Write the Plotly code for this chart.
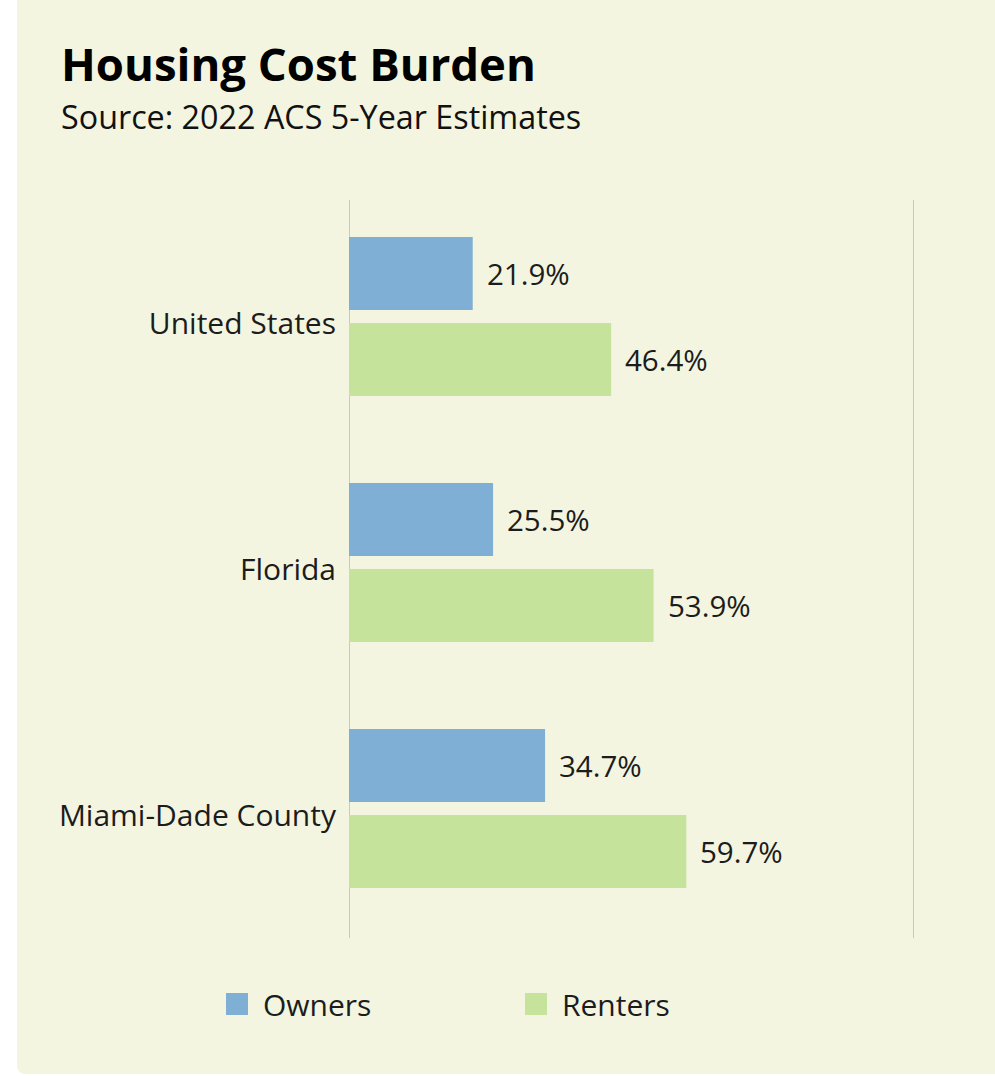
import plotly.graph_objects as go

categories = ["United States", "Florida", "Miami-Dade County"]
owners = [21.9, 25.5, 34.7]
renters = [46.4, 53.9, 59.7]
series_names = ["Owners", "Renters"]
gridline_values = [0, 100]
title_text = "Housing Cost Burden"
subtitle_text = "Source: 2022 ACS 5-Year Estimates"

W, H = 995, 1076
ML, MR, MT, MB = 349, 81, 200, 138
PW, PH = W - ML - MR, H - MT - MB

BG = "#f3f5e0"
BLUE = "#80afd6"
GREEN = "#c5e39b"
TXT = "#1c1c1c"
FONT = "Open Sans, Noto Sans, sans-serif"

BAR_W = 0.297
OFF_OWN = -0.35
OFF_REN = 0.0


def px(x):
    return (x - ML) / PW


def py(y):
    return (H - MB - y) / PH


fig = go.Figure()
fig.add_trace(go.Bar(y=categories, x=owners, orientation="h", name=series_names[0],
                     marker=dict(color=BLUE, line=dict(width=0)),
                     width=BAR_W, offset=OFF_OWN, showlegend=False, hoverinfo="skip"))
fig.add_trace(go.Bar(y=categories, x=renters, orientation="h", name=series_names[1],
                     marker=dict(color=GREEN, line=dict(width=0)),
                     width=BAR_W, offset=OFF_REN, showlegend=False, hoverinfo="skip"))

annotations = []
for i, v in enumerate(owners):
    annotations.append(dict(x=v, y=i + OFF_OWN + BAR_W / 2, xref="x", yref="y",
                            text=f"{v:.1f}%", showarrow=False, xanchor="left",
                            yanchor="middle", xshift=12,
                            font=dict(size=29.5, color=TXT, family=FONT)))
for i, v in enumerate(renters):
    annotations.append(dict(x=v, y=i + OFF_REN + BAR_W / 2, xref="x", yref="y",
                            text=f"{v:.1f}%", showarrow=False, xanchor="left",
                            yanchor="middle", xshift=12,
                            font=dict(size=29.5, color=TXT, family=FONT)))

# title & subtitle
annotations.append(dict(x=px(59), y=py(63), xref="paper", yref="paper", text=f"<b>{title_text}</b>",
                        showarrow=False, xanchor="left", yanchor="middle",
                        font=dict(size=45.5, color="#000000", family=FONT)))
annotations.append(dict(x=px(59), y=py(116), xref="paper", yref="paper", text=subtitle_text,
                        showarrow=False, xanchor="left", yanchor="middle",
                        font=dict(size=32.3, color="#111111", family=FONT)))

shapes = []
# card background with rounded bottom-left corner
r = 9
cx0, cy0, cx1, cy1 = 17, -20, 1010, 1074
path = (f"M {px(cx0)},{py(cy0)} L {px(cx1)},{py(cy0)} L {px(cx1)},{py(cy1)} "
        f"L {px(cx0 + r)},{py(cy1)} Q {px(cx0)},{py(cy1)} {px(cx0)},{py(cy1 - r)} Z")
shapes.append(dict(type="path", xref="paper", yref="paper", path=path,
                   fillcolor=BG, line=dict(width=0), layer="below"))

# vertical gridlines
for g in gridline_values:
    shapes.append(dict(type="line", xref="x", yref="paper", x0=g, x1=g, y0=0, y1=1,
                       line=dict(color="#c8c8c8", width=2), layer="below"))

# manual legend
legend_items = [(series_names[0], BLUE, 226), (series_names[1], GREEN, 525)]
for name, col, x0 in legend_items:
    shapes.append(dict(type="rect", xref="paper", yref="paper",
                       x0=px(x0), x1=px(x0 + 22), y0=py(1015), y1=py(993),
                       fillcolor=col, line=dict(width=0), layer="above"))
    annotations.append(dict(x=px(x0 + 35), y=py(1004), xref="paper", yref="paper", text=name,
                            showarrow=False, xanchor="left", yanchor="middle",
                            font=dict(size=30, color=TXT, family=FONT)))

fig.update_layout(
    width=W, height=H,
    margin=dict(l=ML, r=MR, t=MT, b=MB, pad=0),
    paper_bgcolor="#ffffff",
    plot_bgcolor="rgba(0,0,0,0)",
    barmode="overlay",
    showlegend=False,
    annotations=annotations,
    shapes=shapes,
    font=dict(family=FONT, color=TXT),
    xaxis=dict(range=[0, 100], showticklabels=False, ticks="",
               showgrid=False, zeroline=False, showline=False, fixedrange=True),
    yaxis=dict(autorange="reversed", showgrid=False, zeroline=False, showline=False,
               ticks="", ticklabelstandoff=12,
               tickfont=dict(size=30, color=TXT, family=FONT), fixedrange=True),
)

fig.write_html("out.html", config={"displayModeBar": False},
               post_script="document.body.style.margin='0px';")
